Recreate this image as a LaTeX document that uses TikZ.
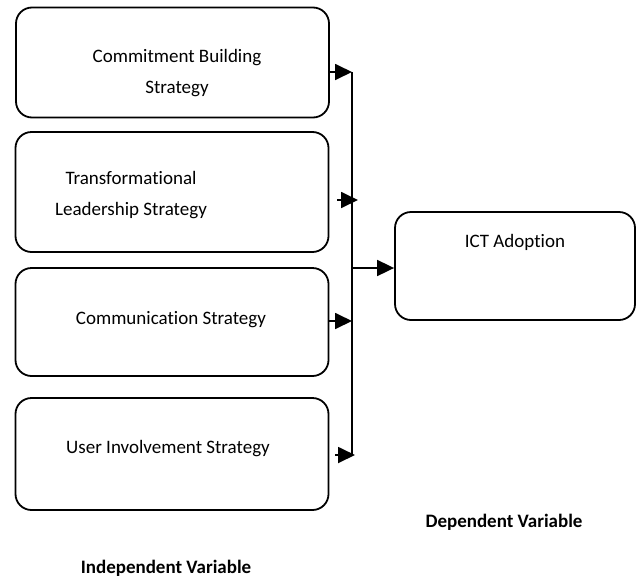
\documentclass[tikz,border=0pt]{standalone}
\usepackage{fontspec}
\setmainfont[Ligatures=NoCommon]{Carlito}
\usetikzlibrary{arrows.meta, positioning}

\begin{document}
\begin{tikzpicture}[x=1pt, y=-1pt,%
  box/.style={draw, line width=1.8pt, rounded corners=16pt, minimum width=313pt, minimum height=110pt, inner sep=0pt},%
  lbl/.style={font=\fontsize{19}{31}\selectfont, align=center, inner sep=0pt},%
  head/.style={font=\fontsize{19}{23}\selectfont\bfseries, inner sep=0pt},%
  myarrow/.style={-{Triangle[length=17pt,width=16pt]}, line width=1.8pt}%
]
  \useasboundingbox (0,0) rectangle (636,581);
  \node[box] (b1) at (172.5,62.5) {};
  \node[box, minimum height=120pt] (b2) at (172,192) {};
  \node[box, minimum height=108pt] (b3) at (172,322) {};
  \node[box, minimum height=112pt] (b4) at (172,454) {};
  \node[box, minimum width=240pt, minimum height=108pt] (b5) at (515,266) {};
  \node[lbl] (t1) at (177,73.5) {Commitment Building\\Strategy};
  \node[lbl] (t2) at (131,195.5) {Transformational\\Leadership Strategy};
  \node[lbl] (t3) at (171,320) {Communication Strategy};
  \node[lbl] (t4) at (168,449) {User Involvement Strategy};
  \node[lbl] (t5) at (515,242) {ICT Adoption};
  \node[head] (dep) at (504,522) {Dependent Variable};
  \node[head] (ind) at (166,568) {Independent Variable};
  \coordinate (j1) at (352,72);
  \coordinate (j0) at (352,268);
  \coordinate (j4) at (352,455);
  \coordinate (a2) at (358,200);
  \coordinate (a3) at (352,321);
  \coordinate (a4) at (355,455);
  \draw[line width=1.8pt] (j1) -- (j4);
  \draw[myarrow] (b1.east |- j1) -- (j1);
  \draw[myarrow] ([xshift=8pt]b2.east |- a2) -- (a2);
  \draw[myarrow] (b3.east |- a3) -- (a3);
  \draw[myarrow] ([xshift=6pt]b4.east |- a4) -- (a4);
  \draw[myarrow] (j0) -- (b5.west |- j0);
\end{tikzpicture}
\end{document}
